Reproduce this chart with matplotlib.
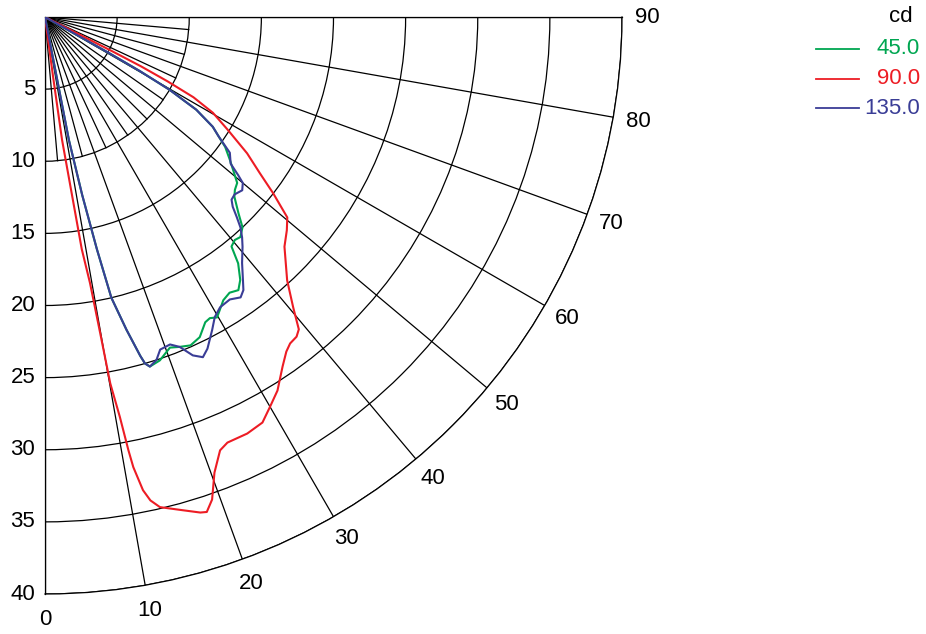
"""Diagrama polar d'intensitat lluminosa (cd) per als plans C45, C90 i C135."""
import matplotlib
matplotlib.use("Agg")
import matplotlib.pyplot as plt
import numpy as np
from matplotlib.lines import Line2D

plt.rcParams["font.family"] = ["Liberation Sans", "DejaVu Sans"]

# Pla C45 (angle gamma en graus, intensitat en cd)
C45_ANG = [10.5, 11.0, 11.8, 12.6, 13.3, 14.6, 15.7, 16.1, 16.7, 18.5, 20.7, 22.2,
           23.9, 25.8, 27.7, 28.7, 29.8, 32.2, 33.8, 35.3, 36.6, 38.1, 39.1, 40.4,
           41.6, 43.2, 44.6, 46.5, 47.7, 49.2, 50.9, 52.3, 54.2, 55.5, 56.8, 58.5,
           59.0, 59.7, 60.3, 60.6, 61.2]
C45_CD = [0, 8.7, 12.6, 16.5, 20.0, 22.4, 24.4, 25.0, 25.3, 25.1, 24.5, 24.7,
          24.9, 24.65, 23.9, 23.8, 24.0, 23.2, 23.0, 23.2, 22.7, 21.7, 20.5, 20.3,
          20.4, 20.0, 19.1, 18.1, 17.8, 17.6, 16.8, 16.2, 15.4, 14.6, 13.9, 12.3,
          11.2, 10.0, 7.6, 5.2, 0]

# Pla C90
C90_ANG = [7.5, 7.7, 7.9, 9.0, 9.6, 9.9, 10.1, 10.6, 10.9, 11.1, 11.7, 12.3, 13.2,
           15.6, 17.4, 18.1, 19.1, 20.4, 22.0, 23.2, 25.9, 28.2, 30.0, 31.9, 34.2,
           35.8, 36.9, 38.2, 39.1, 40.5, 42.6, 46.2, 48.6, 50.4, 52.3, 54.0, 56.0,
           58.3, 60.3, 61.6, 62.3, 62.8, 63.0, 63.4]
C90_CD = [0, 4.2, 8.6, 16.3, 18.7, 22.2, 25.8, 28.2, 30.6, 31.8, 33.5, 34.3, 34.9,
          35.5, 36.0, 36.1, 35.4, 33.7, 32.4, 32.1, 32.1, 31.9, 31.2, 30.5, 29.3,
          28.6, 28.3, 28.2, 27.9, 26.5, 24.8, 23.0, 22.35, 21.8, 20.0, 18.4, 16.9,
          14.9, 13.4, 11.7, 9.6, 7.5, 5.3, 0]

# Pla C135
C135_ANG = [10.5, 11.0, 11.8, 12.6, 13.3, 14.6, 15.7, 16.1, 16.7, 18.0, 19.1, 20.9,
            22.2, 23.6, 24.9, 26.1, 28.1, 29.5, 31.1, 33.2, 34.9, 36.0, 37.0, 38.7,
            40.7, 41.8, 42.9, 43.8, 44.7, 45.6, 46.9, 48.7, 50.0, 50.7, 51.7, 53.7,
            55.5, 56.8, 58.5, 59.0, 59.7, 60.3, 60.6, 61.2]
C135_CD = [0, 8.7, 12.6, 16.5, 20.0, 22.4, 24.4, 25.0, 25.3, 25.0, 24.4, 24.3,
           24.7, 25.6, 26.0, 25.6, 24.6, 23.9, 23.5, 23.4, 23.7, 23.4, 22.8, 21.85,
           21.0, 20.5, 19.9, 19.2, 18.5, 18.1, 18.0, 18.2, 17.9, 17.3, 16.4, 15.9,
           14.6, 13.9, 12.3, 11.2, 10.0, 7.6, 5.2, 0]

SERIES_LABELS = ["45.0", "90.0", "135.0"]
SERIES_COLORS = ["#00a651", "#ed1c24", "#3a3d96"]

R_TICKS = [5, 10, 15, 20, 25, 30, 35, 40]
THETA_TICKS = [0, 10, 20, 30, 40, 50, 60, 70, 80, 90]
THETA_MINOR = [5, 15, 25, 35, 45, 55, 65, 75, 85]
MINOR_LEN = 10
FS = 16

W, H = 926, 634
fig = plt.figure(figsize=(W / 100, H / 100), dpi=100)
# origen del diagrama a (45, 17) px, radi 577 px
ax = fig.add_axes([45 / W, (H - 594) / H, 577 / W, 577 / H], projection="polar")
ax.set_theta_zero_location("S")
ax.set_theta_direction(1)
ax.set_thetamin(0)
ax.set_thetamax(90)
ax.set_rlim(0, 40)

ax.set_rticks(R_TICKS)
ax.set_yticklabels([str(v) for v in R_TICKS])
ax.set_rlabel_position(0)
ax.set_thetagrids(THETA_TICKS, [str(v) for v in THETA_TICKS])
ax.grid(True, color="black", linewidth=0.9)
ax.tick_params(axis="x", labelsize=FS, pad=8)
ax.tick_params(axis="y", labelsize=FS)
for sp in ax.spines.values():
    sp.set_color("black")
    sp.set_linewidth(0.9)

# línies radials curtes cada 5 graus prop de l'origen
for a in THETA_MINOR:
    ax.plot([np.radians(a)] * 2, [0, MINOR_LEN], color="black", linewidth=0.9, zorder=1)

data = [(C45_ANG, C45_CD), (C90_ANG, C90_CD), (C135_ANG, C135_CD)]
for (ang, cd), col in zip(data, SERIES_COLORS):
    ax.plot(np.radians(ang), cd, color=col, linewidth=1.5, zorder=3,
            solid_joinstyle="round")

# llegenda manual, textos alineats a la dreta
fig.text(913 / W, 1 - 17 / H, "cd", fontsize=FS, ha="right", va="center")
for i, (lab, col) in enumerate(zip(SERIES_LABELS, SERIES_COLORS)):
    y = 1 - (49 + 29.5 * i) / H
    fig.add_artist(Line2D([816 / W, 859 / W], [y, y], color=col, linewidth=1.3,
                          transform=fig.transFigure))
    fig.text(920 / W, y, lab, fontsize=FS, color=col, ha="right", va="center")

fig.savefig("out.png", dpi=100)
